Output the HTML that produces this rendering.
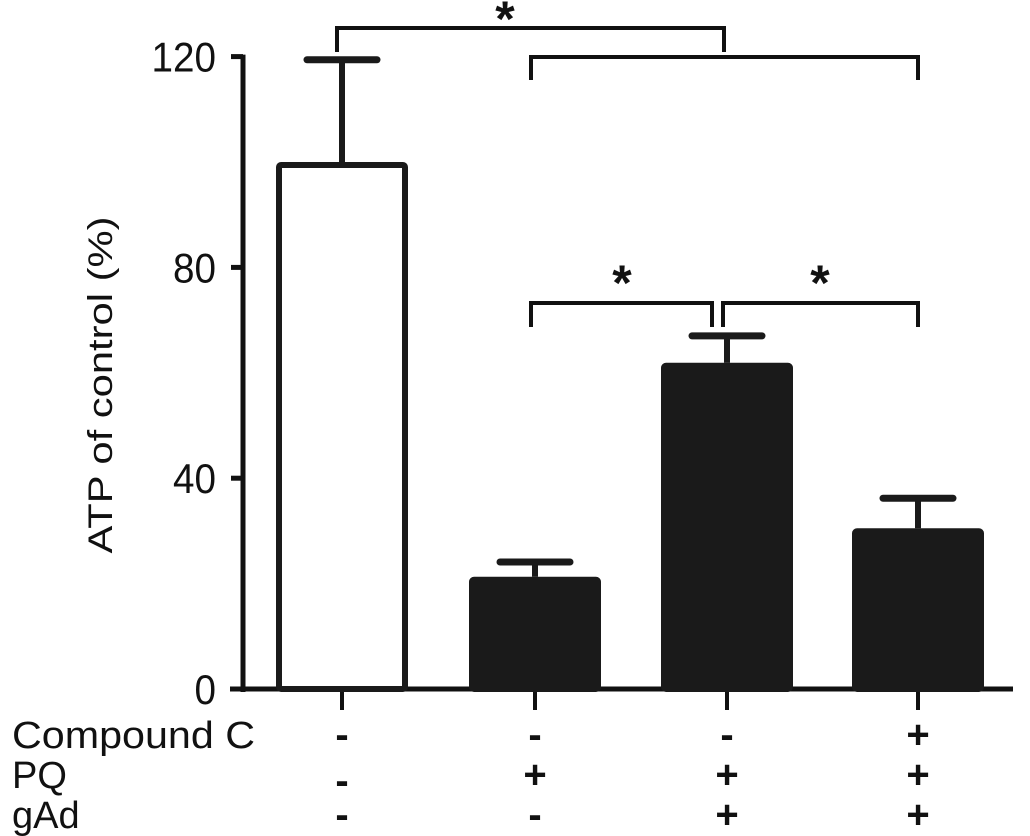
<!DOCTYPE html>
<html><head><meta charset="utf-8"><style>
body{margin:0;background:#fff}
svg{display:block;font-family:"Liberation Sans",Arial,sans-serif}
</style></head><body>
<svg id="chart" width="1030" height="836" viewBox="0 0 1030 836" xmlns="http://www.w3.org/2000/svg">
<g id="axes"></g>
<g id="bars"></g>
<g id="sig"></g>
<g id="labels"></g>
<text transform="translate(112,385) rotate(-90) scale(1,0.9)" text-anchor="middle" font-size="38" textLength="337" lengthAdjust="spacingAndGlyphs" fill="#111">ATP of control (%)</text>
</svg>
<script>
const categories = ["Control","PQ","PQ+gAd","PQ+gAd+CC"];
const values = [100, 21.3, 61.9, 30.5];
const errors = [119.4, 24.1, 67, 36.2];
const fills = ["#fff","#1a1a1a","#1a1a1a","#1a1a1a"];
const yTicks = [0, 40, 80, 120];
const rowNames = ["Compound C","PQ","gAd"];
const rowSigns = [["-","-","-","+"],["-","+","+","+"],["-","-","+","+"]];

const NS="http://www.w3.org/2000/svg";
const y0=689, ppu=5.27;
const y=v=>y0-v*ppu;
const centers=[342,535,727,918];
const x=i=>centers[i];
const bw=132, capW=70;
function mk(tag,attrs,parent){const e=document.createElementNS(NS,tag);for(const k in attrs)e.setAttribute(k,attrs[k]);parent.appendChild(e);return e;}
const axes=document.getElementById('axes'),bars=document.getElementById('bars'),sig=document.getElementById('sig'),labels=document.getElementById('labels');

let ya=mk('line',{x1:243,y1:y(120)-2,x2:243,y2:y0+3,stroke:'#111','stroke-width':5},axes);


let xa=mk('line',{x1:230,y1:y0,x2:1013,y2:y0,stroke:'#111','stroke-width':5},axes);


yTicks.forEach(t=>{
  let l=mk('line',{x1:231,y1:y(t),x2:243,y2:y(t),stroke:'#111','stroke-width':5},axes);
  
  
  let tx=mk('text',{x:216,y:y(t)+15,'text-anchor':'end','font-size':42,fill:'#111',transform:`translate(216,${y(t)+15}) scale(0.92,1) translate(-216,${-(y(t)+15)})`},axes);
  tx.textContent=t;
  
  
});
categories.forEach((c,i)=>{
  let l=mk('line',{x1:x(i),y1:y0,x2:x(i),y2:710,stroke:'#111','stroke-width':4},axes);
  
  
  let e=mk('line',{x1:x(i),y1:y(errors[i]),x2:x(i),y2:y(values[i]),stroke:'#1a1a1a','stroke-width':6},bars);
  
  
  let cp=mk('line',{x1:x(i)-capW/2,y1:y(errors[i]),x2:x(i)+capW/2,y2:y(errors[i]),stroke:'#1a1a1a','stroke-width':7,'stroke-linecap':'round'},bars);
  
  
  let r=mk('rect',{x:x(i)-bw/2+3,y:y(values[i])+3,width:bw-6,height:y0-y(values[i])-3,fill:fills[i],stroke:'#1a1a1a','stroke-width':6,rx:2},bars);
  
  
});
function bracket(x1,x2,yt,yb1,yb2,starX,starY){
  let p=mk('path',{d:`M${x1},${yb1} V${yt} H${x2} V${yb2}`,fill:'none',stroke:'#111','stroke-width':4},sig);
  
  
  if(starX<0) return;
  let s=mk('text',{x:starX,y:starY,'text-anchor':'middle','font-size':50,'font-weight':'bold',fill:'#111'},sig);
  s.textContent='*';
  
  
}
bracket(337,724,28,52,52,505,36);
bracket(531,918,57,80,80,-100,-100);
bracket(531,712,303,327,327,622,300);
bracket(723,918,303,327,327,820,300);
const rowY=[748,788,828];
rowNames.forEach((n,r)=>{
  let t=mk('text',{x:12,y:rowY[r],'font-size':38,fill:'#111'},labels);
  t.textContent=n;
  if(r===0){t.setAttribute('textLength',243);t.setAttribute('lengthAdjust','spacingAndGlyphs');}
  
  
  rowSigns[r].forEach((s,i)=>{
    let st=mk('text',{x:x(i),y:rowY[r]+(s==='-'&&r===1?6:0),'text-anchor':'middle','font-size':40,'font-weight':'bold',fill:'#111'},labels);
    st.textContent=s;
    
    
  });
});
</script>
</body></html>
